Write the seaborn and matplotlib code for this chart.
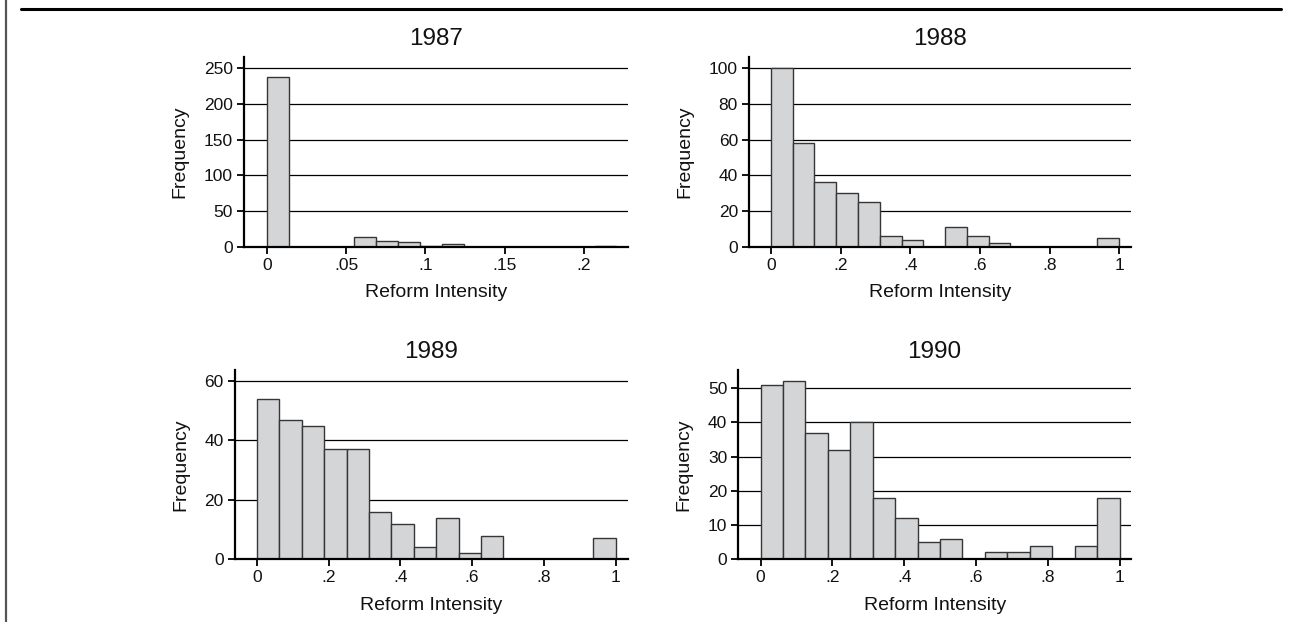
import numpy as np
import pandas as pd
import matplotlib
matplotlib.use("Agg")
import matplotlib.pyplot as plt
from matplotlib.lines import Line2D
import seaborn as sns

# ---------------- data ----------------
years = ["1987", "1988", "1989", "1990"]
counts_1987 = [238, 0, 0, 0, 14, 9, 7, 1, 4, 0, 0, 0, 0, 0, 0, 2]
counts_1988 = [100, 58, 36, 30, 25, 6, 4, 0, 11, 6, 2, 0, 0, 0, 0, 5]
counts_1989 = [54, 47, 45, 37, 37, 16, 12, 4, 14, 2, 8, 0, 0, 0, 0, 7]
counts_1990 = [51, 52, 37, 32, 40, 18, 12, 5, 6, 0, 2, 2, 4, 0, 4, 18]
bin_max = [0.2207, 1.0, 1.0, 1.0]
xticks_1987 = [0, 0.05, 0.1, 0.15, 0.2]
xticks_other = [0, 0.2, 0.4, 0.6, 0.8, 1.0]
yticks_1987 = [0, 50, 100, 150, 200, 250]
yticks_1988 = [0, 20, 40, 60, 80, 100]
yticks_1989 = [0, 20, 40, 60]
yticks_1990 = [0, 10, 20, 30, 40, 50]
x_label = "Reform Intensity"
y_label = "Frequency"

all_counts = [counts_1987, counts_1988, counts_1989, counts_1990]
all_xticks = [xticks_1987, xticks_other, xticks_other, xticks_other]
all_yticks = [yticks_1987, yticks_1988, yticks_1989, yticks_1990]

# ---------------- style ----------------
sns.set_style("ticks")
plt.rcParams["font.family"] = ["Liberation Sans", "DejaVu Sans"]

W, H = 1291, 622
fig = plt.figure(figsize=(W / 100, H / 100), dpi=100)

# axes boxes in pixels: left, top, right, bottom
boxes = [
    (244, 57, 628, 247),
    (749, 57, 1131, 246.7),
    (234.7, 370, 627.7, 559.3),
    (738.3, 370, 1131, 559.3),
]
xlims = [(-0.0146, 0.228), (-0.063, 1.034), (-0.062, 1.034), (-0.062, 1.032)]
ylims = [265.4, 106.3, 63.7, 55.3]


def fmt(v):
    s = f"{v:g}"
    if s.startswith("0."):
        s = s[1:]
    return s


for i, (yr, cnt) in enumerate(zip(years, all_counts)):
    l, t, r, b = boxes[i]
    ax = fig.add_axes([l / W, 1 - b / H, (r - l) / W, (b - t) / H])
    n = len(cnt)
    edges = np.linspace(0, bin_max[i], n + 1)
    centers = (edges[:-1] + edges[1:]) / 2
    df = pd.DataFrame({"x": centers, "w": cnt})
    df = df[df["w"] > 0]
    sns.histplot(data=df, x="x", weights="w", bins=[float(e) for e in edges],
                 ax=ax, color="#d4d5d7", alpha=1.0, edgecolor="#363636",
                 linewidth=1.0, zorder=3)
    ax.set_xlim(*xlims[i])
    ax.set_ylim(0, ylims[i])
    ax.set_xticks(all_xticks[i])
    ax.set_xticklabels([fmt(v) for v in all_xticks[i]])
    ax.set_yticks(all_yticks[i])
    ax.set_yticklabels([fmt(v) for v in all_yticks[i]])
    for yv in all_yticks[i][1:]:
        ax.axhline(yv, color="black", linewidth=0.9, zorder=1)
    for s in ["top", "right"]:
        ax.spines[s].set_visible(False)
    for s in ["left", "bottom"]:
        ax.spines[s].set_linewidth(1.6)
        ax.spines[s].set_color("black")
        ax.spines[s].set_zorder(4)
    ax.tick_params(axis="both", length=5, width=1.3, color="black",
                   labelsize=12.5, labelcolor="#111111", pad=3)
    ax.set_xlabel(x_label, fontsize=14, color="#111111", labelpad=8)
    ax.set_ylabel(y_label, fontsize=14, color="#111111", labelpad=11)
    ax.set_title(yr, fontsize=17.5, color="#111111", pad=8.6)
    ax.set_facecolor("white")

# page decorations (scan edges)
fig.add_artist(Line2D([21 / W, 1281 / W], [1 - 8.5 / H, 1 - 8.5 / H],
                      color="black", linewidth=2.2, transform=fig.transFigure))
fig.add_artist(Line2D([5.5 / W, 5.5 / W], [0, 1],
                      color="#555555", linewidth=1.6, transform=fig.transFigure))

fig.savefig("out.png", dpi=100, facecolor="white")
